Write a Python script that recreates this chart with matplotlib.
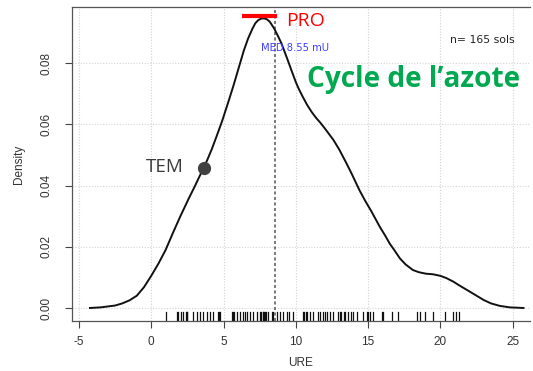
import matplotlib
matplotlib.use('Agg')
import matplotlib.pyplot as plt
import numpy as np

plt.rcParams['font.family'] = ['Liberation Sans', 'DejaVu Sans']
plt.rcParams['axes.unicode_minus'] = False

# density curve of URE (read at selected x positions)
curve_x = [-4.24, -3.5, -3.0, -2.5, -2.0, -1.5, -1.0, -0.5, 0.0, 0.5, 1.0, 1.5,
           2.0, 2.3, 2.6, 3.0, 3.3, 3.6, 3.9, 4.2, 4.5, 4.9, 5.3, 5.7, 6.0, 6.4,
           6.7, 7.0, 7.2, 7.4, 7.6, 7.8, 8.0, 8.2, 8.5, 8.8, 9.0, 9.4, 9.7, 10.0,
           10.2, 10.5, 10.8, 11.1, 11.4, 11.7, 12.0, 12.3, 12.6, 13.0, 13.5, 13.9,
           14.4, 14.8, 15.2, 15.8, 16.2, 16.5, 16.8, 17.2, 17.6, 18.1, 18.5, 19.0,
           19.5, 20.0, 20.4, 20.9, 21.3, 21.8, 22.4, 23.0, 23.5, 24.1, 24.8, 25.75]
curve_y = [0.0, 0.0002, 0.0005, 0.0008, 0.0015, 0.0025, 0.004, 0.0068, 0.0105,
           0.0145, 0.019, 0.0245, 0.0298, 0.0328, 0.0358, 0.0396, 0.0426, 0.0455,
           0.0486, 0.052, 0.0558, 0.061, 0.0668, 0.0728, 0.0776, 0.084, 0.088,
           0.0912, 0.093, 0.0940, 0.0945, 0.0946, 0.0943, 0.0935, 0.0913, 0.0885,
           0.0865, 0.0815, 0.0776, 0.0738, 0.0716, 0.0688, 0.0662, 0.064, 0.0621,
           0.0605, 0.0587, 0.0568, 0.0549, 0.0518, 0.0473, 0.0435, 0.0385, 0.035,
           0.0318, 0.0266, 0.0235, 0.021, 0.019, 0.0162, 0.0142, 0.0124, 0.0117,
           0.0112, 0.011, 0.0105, 0.0098, 0.0086, 0.0074, 0.006, 0.0043, 0.0026,
           0.0015, 0.0007, 0.0002, 0.0]

# individual soil values (rug)
rug_values = [1.02, 1.76, 1.87, 2.04, 2.17, 2.4, 2.45, 2.5, 2.91, 3.14, 3.37, 3.6,
              3.84, 4.07, 4.3, 4.65, 4.71, 4.78, 5.62, 5.68, 5.74, 5.91, 6.14, 6.33,
              6.49, 6.6, 6.83, 7.06, 7.3, 7.55, 7.62, 7.7, 7.75, 7.82, 7.9, 7.97,
              8.1, 8.33, 8.45, 8.68, 8.91, 9.14, 9.37, 9.53, 9.83, 10.52, 10.6,
              10.68, 10.75, 10.99, 11.22, 11.56, 11.68, 11.86, 12.0, 12.14, 12.37,
              12.6, 12.95, 13.05, 13.15, 13.3, 13.41, 13.64, 13.8, 13.98, 14.22,
              14.68, 14.9, 15.02, 15.14, 15.37, 15.95, 16.0, 16.64, 17.1, 18.37,
              18.6, 18.95, 19.52, 20.33, 20.9, 21.09, 21.32]

median_ure = 8.55
n_sols = 165
tem_x, tem_y = 3.63, 0.0456
pro_x0, pro_x1, pro_y = 6.26, 8.72, 0.0955

x_ticks = [-5, 0, 5, 10, 15, 20, 25]
y_ticks = [0.00, 0.02, 0.04, 0.06, 0.08]

fig = plt.figure(figsize=(5.33, 3.71), dpi=100)
ax = fig.add_axes([72 / 533, 50 / 371, 458 / 533, 314 / 371])
ax.set_xlim(-5.48, 26.2)
ax.set_ylim(-0.00425, 0.0983)

# dotted grid
for xt in x_ticks:
    ax.axvline(xt, color='#d4d4d4', linestyle=(0, (1, 1.5)), linewidth=0.8, zorder=0)
for yt in y_ticks:
    ax.axhline(yt, color='#d4d4d4', linestyle=(0, (1, 1.5)), linewidth=0.8, zorder=0)

ax.plot(curve_x, curve_y, color='#111111', linewidth=1.4, zorder=3,
        solid_joinstyle='round')

# rug along the bottom
for v in rug_values:
    ax.plot([v, v], [-0.00425, -0.0012], color='#111111', linewidth=0.9, zorder=2)

ax.axvline(median_ure, color='#555555', linestyle=(0, (2, 1.6)), linewidth=1.1, zorder=2)

ax.plot([pro_x0, pro_x1], [pro_y, pro_y], color='#ff0000', linewidth=3, solid_capstyle='butt', zorder=4)
ax.plot(tem_x, tem_y, 'o', color='#404040', markersize=8.5, zorder=4)

ax.text(9.33, 0.0921, 'PRO', color='#ff0000', fontsize=14, family='Open Sans',
        ha='left', va='baseline')
ax.text(2.22, 0.0443, 'TEM', color='#3a3a3a', fontsize=13.5, family='Open Sans',
        ha='right', va='baseline')
ax.text(9.95, 0.0848, f'MED {median_ure} mU', color='#3f3fff', fontsize=7.2,
        family='DejaVu Sans', ha='center', va='center')
ax.text(22.92, 0.0875, f'n= {n_sols} sols', color='#222222', fontsize=7.8,
        family='DejaVu Sans', ha='center', va='center')
ax.text(10.76, 0.0723, 'Cycle de l\u2019azote', color='#00a84f', fontsize=20.2,
        family='Open Sans', fontweight='bold', ha='left', va='baseline')

ax.set_xticks(x_ticks)
ax.set_yticks(y_ticks)
ax.set_yticklabels([f'{t:.2f}' for t in y_ticks], rotation=90, va='center')
ax.tick_params(axis='both', labelsize=8.5, labelcolor='#333333', color='#444444',
               length=5, width=0.8)
ax.tick_params(axis='x', pad=6)
ax.tick_params(axis='y', pad=9)

ax.set_xlabel('URE', fontsize=8.5, color='#333333', labelpad=6)
ax.set_ylabel('Density', fontsize=8.5, color='#333333', labelpad=11)

for side in ['left', 'bottom', 'top']:
    ax.spines[side].set_color('#555555')
    ax.spines[side].set_linewidth(0.9)
ax.spines['right'].set_visible(False)

fig.savefig('out.png', dpi=100)
